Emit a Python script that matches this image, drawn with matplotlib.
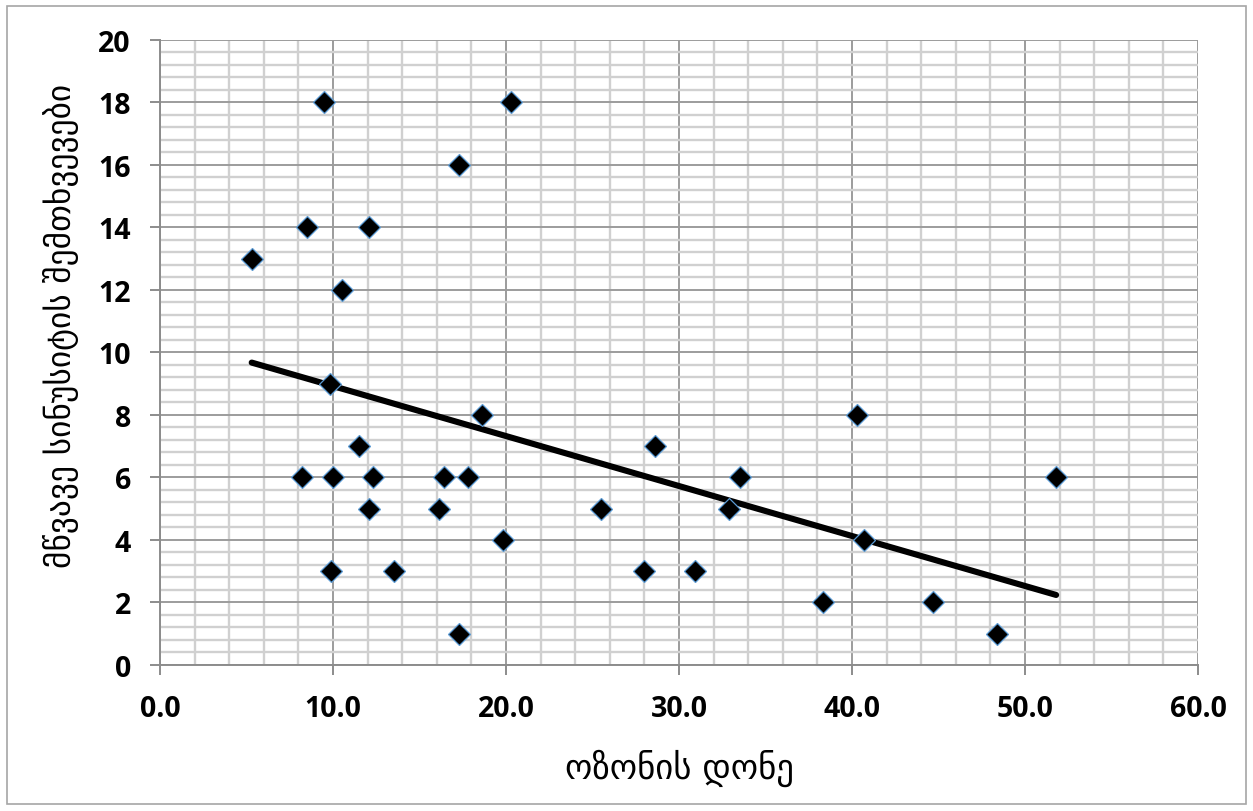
import matplotlib
matplotlib.use("Agg")
from matplotlib import pyplot as plt
from matplotlib.patches import Rectangle
from matplotlib.ticker import MultipleLocator, FormatStrFormatter
import numpy as np

# ozone level vs. acute sinusitis cases
ozone = [5.3, 8.2, 8.5, 9.5, 9.8, 9.9, 10.0, 10.5, 11.5, 12.1, 12.1, 12.3,
         13.5, 16.1, 16.4, 17.3, 17.3, 17.8, 18.6, 19.8, 20.3, 25.5, 28.0,
         28.6, 30.9, 32.9, 33.5, 38.3, 40.3, 40.7, 44.7, 48.4, 51.8]
cases = [13, 6, 14, 18, 9, 3, 6, 12, 7, 14, 5, 6,
         3, 5, 6, 1, 16, 6, 8, 4, 18, 5, 3,
         7, 3, 5, 6, 2, 8, 4, 2, 1, 6]

xlabel = "ოზონის დონე"
ylabel = "მწვავე სინუსიტის შემთხვევები"

x = np.array(ozone)
y = np.array(cases)
k, b = np.polyfit(x, y, 1)
xs = np.array([x.min(), x.max()])

fig = plt.figure(figsize=(12.53, 8.12), dpi=100)
fig.patches.append(Rectangle((0.0056, 0.0086), 0.9888, 0.9828, transform=fig.transFigure,
                             fill=False, edgecolor="#a6a6a6", linewidth=1.2))
ax = fig.add_axes([0.1277, 0.1798, 0.8284, 0.7701])

ax.set_xlim(0, 60)
ax.set_ylim(0, 20)
ax.xaxis.set_major_locator(MultipleLocator(10))
ax.xaxis.set_minor_locator(MultipleLocator(2))
ax.yaxis.set_major_locator(MultipleLocator(2))
ax.yaxis.set_minor_locator(MultipleLocator(0.4))
ax.xaxis.set_major_formatter(FormatStrFormatter("%.1f"))

ax.grid(which="minor", color="#d0d0d0", linewidth=1.7, zorder=0)
ax.grid(which="major", color="#9c9c9c", linewidth=1.4, zorder=0)
ax.set_axisbelow(True)

for s in ["top", "right"]:
    ax.spines[s].set_visible(False)
for s in ["left", "bottom"]:
    ax.spines[s].set_color("#8c8c8c")
    ax.spines[s].set_linewidth(1.4)

ax.tick_params(which="major", direction="out", length=7, width=1.4, color="#8c8c8c", pad=14)
ax.tick_params(which="minor", length=0)
for lab in ax.get_xticklabels() + ax.get_yticklabels():
    lab.set_fontfamily("Open Sans")
    lab.set_fontweight("bold")
    lab.set_fontsize(20.5)

ax.plot(xs, k * xs + b, color="black", linewidth=4.4, solid_capstyle="round", zorder=3)
ax.plot(x, y, linestyle="none", marker="D", markersize=11, markerfacecolor="black",
        markeredgecolor="#5b9bd5", markeredgewidth=0.9, zorder=4)

ax.set_xlabel(xlabel, fontsize=25, family="DejaVu Sans", labelpad=18)
ax.set_ylabel(ylabel, fontsize=24, family="DejaVu Sans")
ax.yaxis.set_label_coords(-0.078, 0.544)

fig.savefig("out.png", dpi=100)
